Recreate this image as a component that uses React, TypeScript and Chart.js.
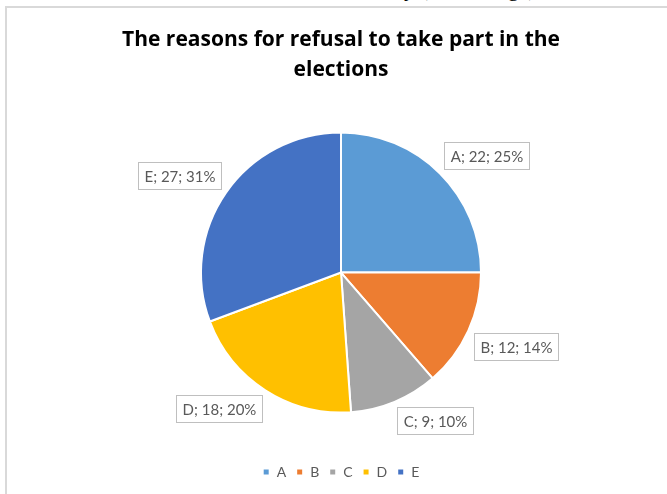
import React, { useEffect, useRef } from "react";
import { Chart, registerables } from "chart.js";

Chart.register(...registerables);

const categories = ["A", "B", "C", "D", "E"];
const values = [22, 12, 9, 18, 27];
const colors = ["#5B9BD5", "#ED7D31", "#A5A5A5", "#FFC000", "#4472C4"];
const titleLines = ["The reasons for refusal to take part in the", "elections"];

const labelPlugin = {
  id: "pieLabels",
  afterDatasetsDraw(chart: any) {
    const ctx = chart.ctx;
    const meta = chart.getDatasetMeta(0);
    const data = chart.data.datasets[0].data as number[];
    const total = data.reduce((a, b) => a + b, 0);
    ctx.save();
    ctx.font = "15px Lato";
    ctx.textAlign = "center";
    ctx.textBaseline = "middle";
    meta.data.forEach((arc: any, i: number) => {
      const { x, y, startAngle, endAngle, outerRadius } = arc.getProps(
        ["x", "y", "startAngle", "endAngle", "outerRadius"],
        true
      );
      const mid = (startAngle + endAngle) / 2;
      const cos = Math.cos(mid);
      const sin = Math.sin(mid);
      const ax = x + (outerRadius + 6) * cos;
      const ay = y + (outerRadius + 6) * sin;
      const v = data[i];
      const text = `${chart.data.labels[i]}; ${v}; ${Math.round((v / total) * 100)}%`;
      const tw = ctx.measureText(text).width;
      const w = Math.round(tw + 12);
      const h = 27;
      const cx = ax + Math.sign(cos) * (w / 2);
      const cy = ay + Math.sign(sin) * (h / 2);
      const left = Math.round(cx - w / 2) + 0.5;
      const top = Math.round(cy - h / 2) + 0.5;
      ctx.fillStyle = "#ffffff";
      ctx.fillRect(left, top, w, h);
      ctx.strokeStyle = "#bfbfbf";
      ctx.lineWidth = 1;
      ctx.strokeRect(left, top, w, h);
      ctx.fillStyle = "#595959";
      ctx.fillText(text, left + w / 2, top + h / 2 + 1);
    });
    ctx.restore();
  },
};

export default function App() {
  const canvasRef = useRef<HTMLCanvasElement | null>(null);

  useEffect(() => {
    if (!canvasRef.current) return;
    const chart = new Chart(canvasRef.current, {
      type: "pie",
      data: {
        labels: categories,
        datasets: [
          {
            data: values,
            backgroundColor: colors,
            borderColor: "#ffffff",
            borderWidth: 2,
          },
        ],
      },
      options: {
        animation: false,
        responsive: false,
        radius: 140,
        layout: { padding: { left: 15, right: 0, top: 0, bottom: 5 } },
        plugins: {
          title: {
            display: true,
            text: titleLines,
            color: "#000000",
            font: { family: "'Open Sans'", size: 21, weight: "bold", lineHeight: 1.43 },
            padding: { top: 25, bottom: 5 },
          },
          legend: {
            position: "bottom",
            labels: {
              boxWidth: 7,
              boxHeight: 7,
              color: "#595959",
              font: { family: "Lato", size: 14 },
              padding: 10,
            },
          },
          tooltip: { enabled: false },
        },
      },
      plugins: [labelPlugin],
    });
    return () => chart.destroy();
  }, []);

  return (
    <div
      style={{
        position: "fixed",
        left: 0,
        top: 0,
        width: 667,
        height: 494,
        overflow: "hidden",
        background: "#ffffff",
      }}
    >
      <div
        style={{
          position: "absolute",
          left: 404,
          top: -22,
          fontFamily: "'Liberation Serif', serif",
          fontSize: 22,
          lineHeight: "22px",
          whiteSpace: "nowrap",
          color: "#000",
        }}
      >
        y (the average)
      </div>
      <div
        style={{
          position: "absolute",
          left: 5,
          top: 6,
          width: 800,
          height: 700,
          borderLeft: "2px solid #d9d9d9",
          borderTop: "2px solid #d9d9d9",
        }}
      />
      <canvas
        ref={canvasRef}
        width={667}
        height={494}
        style={{ position: "absolute", left: 0, top: 0, width: 667, height: 494 }}
      />
    </div>
  );
}
